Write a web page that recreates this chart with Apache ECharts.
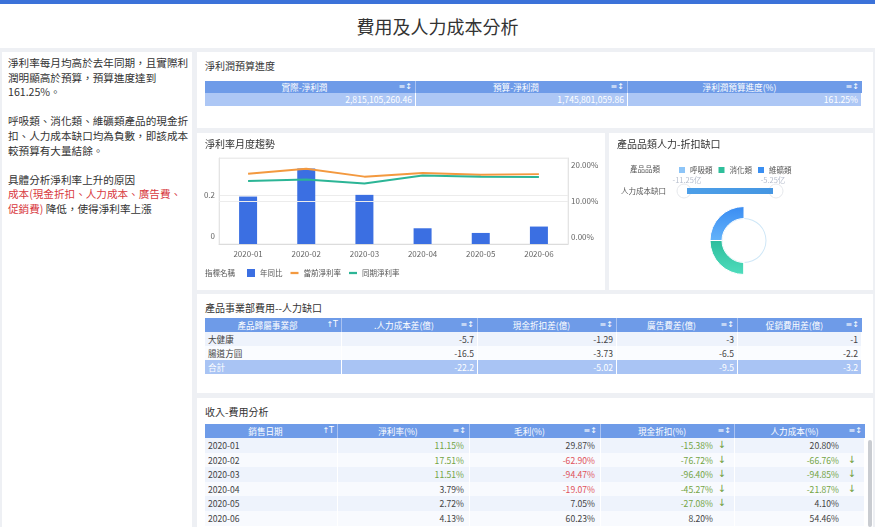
<!DOCTYPE html>
<html><head><meta charset="utf-8">
<script src="https://cdn.jsdelivr.net/npm/echarts@6/dist/echarts.min.js"></script>
<style>
*{box-sizing:border-box;}
body{margin:0;width:875px;height:527px;overflow:hidden;background:#eef0f4;font-family:"Noto Sans CJK TC","Noto Sans",sans-serif;position:relative;}
.panel{position:absolute;background:#fff;}
.ptitle{position:absolute;left:8px;top:7px;font-size:10px;color:#333;line-height:14px;white-space:nowrap;}
.tbl{position:absolute;left:8px;}
.row{display:flex;}
.cell{overflow:hidden;white-space:nowrap;padding:0 3px;font-size:8.6px;border-right:1px solid #fff;position:relative;color:#444;}
.hcell{background:#6e9be8;color:#fff;text-align:center;border-right:1px solid #a9c2f1;padding-right:14px;}
.icon{position:absolute;right:3px;top:0;font-size:8px;color:#fff;font-family:"DejaVu Sans",sans-serif;}
.arrow{position:absolute;top:0;font-size:10px;color:#6f9e3d;font-family:"DejaVu Sans",sans-serif;}
.ltext{position:absolute;left:8px;top:56px;font-size:10.6px;line-height:14.6px;color:#333;white-space:nowrap;}
</style></head>
<body>
<div style="position:absolute;left:0;top:0;width:875px;height:4px;background:#3b72d9;"></div>
<div style="position:absolute;left:0;top:4px;width:875px;height:44px;background:#fff;"></div>
<div id="mainTitle" style="position:absolute;left:0;top:12px;width:875px;text-align:center;font-size:18px;line-height:28px;color:#333;">費用及人力成本分析</div>

<div class="panel" style="left:2px;top:52px;width:190px;height:475px;">
  <div class="ltext" id="leftText" style="left:6px;top:4px;"></div>
</div>

<div class="panel" style="left:197px;top:52px;width:676px;height:76px;">
  <div class="ptitle">淨利潤預算進度</div>
  <div class="tbl" id="tbl1" style="top:29px;"></div>
</div>

<div class="panel" style="left:197px;top:133px;width:408px;height:157px;">
  <div id="chartTrend" style="position:absolute;left:0;top:0;width:408px;height:157px;"></div>
</div>

<div class="panel" style="left:609px;top:133px;width:264px;height:157px;">
  <div id="chartRing" style="position:absolute;left:0;top:0;width:264px;height:157px;"></div>
</div>

<div class="panel" style="left:197px;top:294px;width:676px;height:99px;">
  <div class="ptitle">產品事業部費用--人力缺口</div>
  <div class="tbl" id="tbl2" style="top:24px;"></div>
</div>

<div class="panel" style="left:197px;top:398px;width:676px;height:129px;">
  <div class="ptitle">收入-費用分析</div>
  <div class="tbl" id="tbl3" style="top:26px;"></div>
  <div style="position:absolute;left:671px;top:42px;width:4px;height:87px;background:#c9ccd1;border-radius:2px;"></div>
</div>

<script>
// ---------- DATA ----------
const leftLines = [
  '淨利率每月均高於去年同期，且實際利',
  '潤明顯高於預算，預算進度達到',
  '161.25%。',
  '',
  '呼吸類、消化類、維礦類產品的現金折',
  '扣、人力成本缺口均為負數，即該成本',
  '較預算有大量結餘。',
  '',
  '具體分析淨利率上升的原因'
];
const leftRedLine = '成本(現金折扣、人力成本、廣告費、';
const leftRedTail = '促銷費)';
const leftTail = ' 降低，使得淨利率上漲';

const budgetHeaders = ['實際-淨利潤', '預算-淨利潤', '淨利潤預算進度(%)'];
const budgetActual = 2815105260.46;
const budgetPlan = 1745801059.86;
const budgetProgress = 161.25;

const deptHeaders = ['產品歸屬事業部', '.人力成本差(億)', '現金折扣差(億)', '廣告費差(億)', '促銷費用差(億)'];
const deptNames = ['大健康', '腸道方圓'];
const deptLabor = [-5.7, -16.5];
const deptCash = [-1.29, -3.73];
const deptAd = [-3, -6.5];
const deptPromo = [-1, -2.2];
const deptTotalLabel = '合計';
const deptTotals = [-22.2, -5.02, -9.5, -3.2];

const revHeaders = ['銷售日期', '淨利率(%)', '毛利(%)', '現金折扣(%)', '人力成本(%)'];
const revMonths = ['2020-01', '2020-02', '2020-03', '2020-04', '2020-05', '2020-06'];
const revNet = [11.15, 17.51, 11.51, 3.79, 2.72, 4.13];
const revGross = [29.87, -62.90, -94.47, -19.07, 7.05, 60.23];
const revCash = [-15.38, -76.72, -96.40, -45.27, -27.08, 8.20];
const revLabor = [20.80, -66.76, -94.85, -21.87, 4.10, 54.46];

const trendMonths = ['2020-01', '2020-02', '2020-03', '2020-04', '2020-05', '2020-06'];
const trendYoY = [0.193, 0.307, 0.2, 0.064, 0.045, 0.071];
const trendCurrent = [0.176, 0.19, 0.168, 0.178, 0.173, 0.175];
const trendPrior = [0.156, 0.16, 0.149, 0.171, 0.168, 0.167];
const trendNames = ['年同比', '當前淨利率', '同期淨利率'];

const catNames = ['呼吸類', '消化類', '維礦類'];
const catRing = [0, 1, 1];
const catRest = 2;
const laborGapMin = -11.25;
const laborGapMax = -5.25;

// ---------- LEFT TEXT ----------
(function(){
  const el = document.getElementById('leftText');
  let html = leftLines.map(l => l === '' ? '&nbsp;' : l).join('<br>');
  html += '<br><span style="color:#d8393e">' + leftRedLine + '</span>';
  html += '<br><span style="color:#d8393e">' + leftRedTail + '</span>' + leftTail;
  el.innerHTML = html;
})();

// ---------- TABLE BUILDER ----------
function buildTable(id, widths, headers, headH, rows, rowH, headIcons, firstAlign) {
  const root = document.getElementById(id);
  let html = '<div class="row" style="height:' + headH + 'px;line-height:' + headH + 'px;">';
  headers.forEach((h, i) => {
    html += '<div class="cell hcell" style="width:' + widths[i] + 'px;' + (i === headers.length - 1 ? 'border-right:none;' : '') + '">' + h +
      '<span class="icon" style="line-height:' + headH + 'px;">' + headIcons[i] + '</span></div>';
  });
  html += '</div>';
  rows.forEach(r => {
    html += '<div class="row" style="height:' + rowH + 'px;line-height:' + rowH + 'px;background:' + r.bg + ';">';
    r.cells.forEach((c, i) => {
      const pr = c.padR != null ? c.padR : 3;
      html += '<div class="cell" style="width:' + widths[i] + 'px;text-align:' + (i === 0 ? firstAlign : 'right') +
        ';padding-right:' + pr + 'px;color:' + (c.color || r.color || '#444') + ';">' + c.text +
        (c.arrow ? '<span class="arrow" style="right:' + c.arrowR + 'px;line-height:' + rowH + 'px;">↓</span>' : '') + '</div>';
    });
    html += '</div>';
  });
  root.innerHTML = html;
}

const fmtMoney = v => v.toLocaleString('en-US', {minimumFractionDigits: 2, maximumFractionDigits: 2});
const sortIcon = '≡↕';
const firstIcon = '↑T';

// table 1
buildTable('tbl1', [211, 212, 234], budgetHeaders, 12,
  [{bg: '#adc7f5', color: '#fff', cells: [
    {text: fmtMoney(budgetActual)}, {text: fmtMoney(budgetPlan)}, {text: budgetProgress.toFixed(2) + '%'}]}],
  13, [sortIcon, sortIcon, sortIcon], 'right');

// table 2
(function(){
  const rows = deptNames.map((n, i) => ({
    bg: i % 2 === 0 ? '#eef3fc' : '#fafcff',
    cells: [{text: n}, {text: String(deptLabor[i])}, {text: String(deptCash[i])}, {text: String(deptAd[i])}, {text: String(deptPromo[i])}]
  }));
  rows.push({bg: '#a9c4f4', color: '#fff', cells: [{text: deptTotalLabel}].concat(deptTotals.map(v => ({text: String(v)})))});
  buildTable('tbl2', [137, 136, 139, 121, 124], deptHeaders, 14, rows, 14,
    [firstIcon, sortIcon, sortIcon, sortIcon, sortIcon], 'left');
})();

// table 3
(function(){
  const green = '#73a443', red = '#e0525a';
  const pct = v => v.toFixed(2) + '%';
  const rows = revMonths.map((m, i) => ({
    bg: i % 2 === 0 ? '#eef3fc' : '#f8fafe',
    cells: [
      {text: m},
      {text: pct(revNet[i]), color: revNet[i] > 10 ? green : null, padR: 5},
      {text: pct(revGross[i]), color: revGross[i] < 0 ? red : null, padR: 5},
      {text: pct(revCash[i]), color: revCash[i] < 0 ? green : null, padR: 21, arrow: revCash[i] < 0, arrowR: 8},
      {text: pct(revLabor[i]), color: revLabor[i] < 0 ? green : null, padR: 25, arrow: revLabor[i] < 0, arrowR: 8}
    ]
  }));
  buildTable('tbl3', [133, 132, 131, 134, 130], revHeaders, 14, rows, 14.6,
    [firstIcon, sortIcon, sortIcon, sortIcon, sortIcon], 'left');
})();

// ---------- TREND CHART ----------
const trend = echarts.init(document.getElementById('chartTrend'));
const axisLbl = {fontSize: 8, color: '#666', fontFamily: 'Noto Sans CJK TC'};
const dashIcon = 'path://M0,0H6V1.7H0Z';
trend.setOption({
  animation: false,
  textStyle: {fontFamily: 'Noto Sans CJK TC'},
  title: {text: '淨利率月度趨勢', left: 8, top: 6, padding: 0, textStyle: {fontSize: 10, fontWeight: 'normal', color: '#333'}},
  graphic: [{type: 'text', left: 8, top: 136, style: {text: '指標名稱', fontSize: 7.5, fill: '#555', fontFamily: 'Noto Sans CJK TC'}}],
  legend: {
    left: 50, top: 136, itemWidth: 8, itemHeight: 8, itemGap: 8, padding: 0,
    textStyle: {fontSize: 7.5, color: '#555'},
    data: [{name: trendNames[0], icon: 'rect'}, {name: trendNames[1], icon: dashIcon}, {name: trendNames[2], icon: dashIcon}]
  },
  grid: {left: 22, right: 37, top: 25, bottom: 46, show: true, borderColor: '#ececec', borderWidth: 1},
  xAxis: {
    type: 'category', data: trendMonths,
    axisLine: {lineStyle: {color: '#dcdcdc'}}, axisTick: {show: false},
    axisLabel: Object.assign({margin: 6}, axisLbl)
  },
  yAxis: [{
    type: 'value', min: 0, max: 0.35, interval: 0.2,
    axisLine: {show: true, lineStyle: {color: '#e4e4e4'}}, axisTick: {show: false},
    splitLine: {lineStyle: {color: '#ececec'}},
    axisLabel: Object.assign({margin: 4, showMaxLabel: false, lineHeight: 16,
      formatter: v => Math.abs(v) < 1e-9 ? '0\n ' : String(Math.round(v * 10) / 10)}, axisLbl)
  }, {
    type: 'value', min: -0.02, max: 0.22, interval: 0.02,
    axisLine: {show: true, lineStyle: {color: '#e4e4e4'}}, axisTick: {show: false},
    splitLine: {show: false},
    axisLabel: Object.assign({margin: 3,
      formatter: v => {
        const p = Math.round(v * 100);
        if (p === 0 || p === 10 || p === 20) return p.toFixed(2) + '%';
        return '';
      }}, axisLbl)
  }],
  series: [{
    name: trendNames[0], type: 'bar', yAxisIndex: 0, data: trendYoY, barWidth: 18,
    itemStyle: {color: '#3b6fe2'}
  }, {
    name: trendNames[1], type: 'line', yAxisIndex: 1, data: trendCurrent, symbol: 'none',
    lineStyle: {width: 2, color: '#f3993f'}, itemStyle: {color: '#f3993f'}
  }, {
    name: trendNames[2], type: 'line', yAxisIndex: 1, data: trendPrior, symbol: 'none',
    lineStyle: {width: 2, color: '#2cb596'}, itemStyle: {color: '#2cb596'},
    markLine: {silent: true, symbol: 'none', label: {show: false}, lineStyle: {color: '#ececec', type: 'solid', width: 1},
      data: [{yAxis: 0.1}]}
  }]
});

// ---------- RING CHART ----------
const ring = echarts.init(document.getElementById('chartRing'));
const catColors = {'呼吸類': '#8dc5f8', '消化類': '#2fbf9b', '維礦類': '#3a8ff2'};
const catGrad = {
  '消化類': new echarts.graphic.LinearGradient(0, 0, 0, 1, [{offset: 0, color: '#2dbd9c'}, {offset: 1, color: '#4fddbd'}]),
  '維礦類': new echarts.graphic.LinearGradient(0, 0, 0, 1, [{offset: 0, color: '#3a8cf2'}, {offset: 1, color: '#63b3fa'}])
};
const ringData = [];
[2, 1, 0].forEach(i => {
  ringData.push({name: catNames[i], value: catRing[i],
    itemStyle: {color: catGrad[catNames[i]] || catColors[catNames[i]]}});
});
ringData.push({name: '', value: catRest, itemStyle: {color: 'rgba(0,0,0,0)', borderWidth: 0}, emphasis: {disabled: true}});

// slider control (range of 人力成本缺口)
const sliderX0 = 78, sliderX1 = 164, sliderY = 58;
const gapToX = v => sliderX0 + (v - laborGapMin) / (laborGapMax - laborGapMin) * (sliderX1 - sliderX0);
const sliderGraphics = [
  {type: 'circle', shape: {cx: gapToX(laborGapMin) - 3, cy: sliderY, r: 7}, style: {fill: '#fff', stroke: '#e6e8ec', lineWidth: 1}, silent: true},
  {type: 'circle', shape: {cx: gapToX(laborGapMax) + 3, cy: sliderY, r: 7}, style: {fill: '#fff', stroke: '#e6e8ec', lineWidth: 1}, silent: true},
  {type: 'rect', shape: {x: gapToX(laborGapMin), y: sliderY - 3, width: gapToX(laborGapMax) - gapToX(laborGapMin), height: 6},
    style: {fill: new echarts.graphic.LinearGradient(0, 0, 1, 0, [{offset: 0, color: '#4d9fe8'}, {offset: 1, color: '#4596e2'}])}, silent: true},
  {type: 'text', x: gapToX(laborGapMin), y: sliderY - 11, style: {text: laborGapMin.toFixed(2) + '亿', fontSize: 7.5, fill: '#b6bdcc', align: 'center', verticalAlign: 'middle', fontFamily: 'Noto Sans CJK TC'}, silent: true},
  {type: 'text', x: gapToX(laborGapMax), y: sliderY - 11, style: {text: laborGapMax.toFixed(2) + '亿', fontSize: 7.5, fill: '#b6bdcc', align: 'center', verticalAlign: 'middle', fontFamily: 'Noto Sans CJK TC'}, silent: true}
];

ring.setOption({
  animation: false,
  textStyle: {fontFamily: 'Noto Sans CJK TC'},
  title: {text: '產品品類人力-折扣缺口', left: 8, top: 6, padding: 0, textStyle: {fontSize: 10, fontWeight: 'normal', color: '#333'}},
  graphic: [
    {type: 'text', x: 51, y: 36, style: {text: '產品品類', fontSize: 7.5, fill: '#555', align: 'right', verticalAlign: 'middle', fontFamily: 'Noto Sans CJK TC'}},
    {type: 'text', x: 57, y: sliderY, style: {text: '人力成本缺口', fontSize: 7.5, fill: '#555', align: 'right', verticalAlign: 'middle', fontFamily: 'Noto Sans CJK TC'}}
  ].concat(sliderGraphics),
  color: catNames.map(n => catColors[n]),
  legend: {
    left: 68, top: 32, itemWidth: 8, itemHeight: 8, itemGap: 4, icon: 'rect', padding: 0,
    textStyle: {fontSize: 7.5, color: '#555', padding: [0, 0, 0, -1]},
    data: catNames.map(n => ({name: n, itemStyle: {color: catColors[n]}}))
  },
  series: [{
    type: 'pie', silent: true, radius: [21.5, 22.5], center: [135, 107.5], label: {show: false}, labelLine: {show: false},
    data: [{name: 'ring', value: 1, itemStyle: {color: '#cfe7f7'}}], legendHoverLink: false
  }, {
    type: 'pie', radius: [22, 34], center: [135, 107.5], startAngle: 90, clockwise: false,
    label: {show: false}, labelLine: {show: false},
    itemStyle: {borderColor: '#fff', borderWidth: 1},
    data: ringData
  }]
});
</script>
</body></html>
